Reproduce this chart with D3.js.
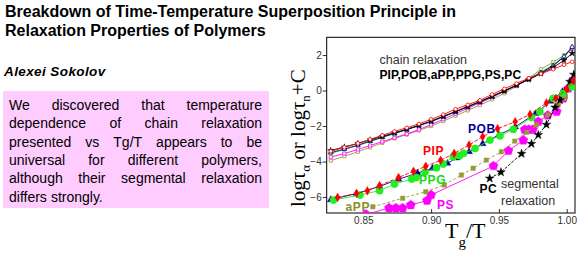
<!DOCTYPE html>
<html><head><meta charset="utf-8">
<script src="https://cdn.jsdelivr.net/npm/d3@7"></script>
<style>
html,body{margin:0;padding:0;background:#fff;}
svg{display:block;font-family:Arial,"Liberation Sans",sans-serif;}
</style></head>
<body>
<script>
// ---- data ----
const titleLines = ["Breakdown of Time-Temperature Superposition Principle in", "Relaxation Properties of Polymers"];
const author = "Alexei Sokolov";
const paragraphLines = ["We discovered that temperature", "dependence of chain relaxation", "presented vs Tg/T appears to be", "universal for different polymers,", "although their segmental relaxation", "differs strongly."];

const xTicks = [0.85, 0.90, 0.95, 1.00];
const yTicks = [-6, -4, -2, 0, 2];

// chain relaxation (open symbols)
const chainX = [0.826,0.836,0.846,0.855,0.864,0.873,0.882,0.891,0.900,0.909,0.918,0.927,0.936,0.945,0.954,0.963,0.972,0.981,0.990,0.998,1.004];
const chainPIP = [-3.42,-3.20,-2.98,-2.75,-2.52,-2.30,-2.10,-1.88,-1.62,-1.35,-1.05,-0.80,-0.55,-0.22,0.10,0.40,0.70,0.95,1.20,1.45,1.62];
const chainPOB = [-3.50,-3.30,-3.08,-2.85,-2.62,-2.42,-2.20,-1.98,-1.75,-1.48,-1.20,-0.92,-0.65,-0.35,-0.02,0.30,0.65,1.00,1.40,1.90,2.45];
const chainAPP = [-3.95,-3.70,-3.45,-3.20,-2.95,-2.70,-2.48,-2.25,-2.00,-1.72,-1.42,-1.12,-0.82,-0.50,-0.15,0.25,0.70,1.20,1.60,2.00,2.35];
const chainPPG = [-3.55,-3.32,-3.10,-2.88,-2.65,-2.43,-2.20,-1.98,-1.74,-1.46,-1.18,-0.90,-0.62,-0.32,0.00,0.33,0.68,1.05,1.45,1.95,2.45];
const chainPS  = [-3.75,-3.55,-3.32,-3.10,-2.88,-2.66,-2.45,-2.20,-1.92,-1.62,-1.30,-1.00,-0.70,-0.38,-0.05,0.28,0.62,1.00,1.40,1.90,2.40];
const chainPC  = [-3.38,-3.18,-2.98,-2.78,-2.58,-2.38,-2.18,-1.96,-1.72,-1.45,-1.18,-0.90,-0.62,-0.32,-0.02,0.30,0.62,0.95,1.30,1.70,2.10];

// segmental relaxation (filled symbols)
const segPIPx = [0.831,0.845,0.853,0.862,0.876,0.887,0.896,0.907,0.917,0.928,0.938,0.949,0.962,0.973,0.985,0.992,1.000,1.005];
const segPIPy = [-6.02,-5.80,-5.65,-5.35,-4.90,-4.55,-4.27,-3.93,-3.54,-3.07,-2.60,-2.15,-1.76,-1.34,-0.70,-0.44,0.08,0.55];
const segPOBx = [0.826,0.845,0.862,0.876,0.890,0.901,0.912,0.919,0.928,0.938,0.950,0.962,0.977,0.988,0.997,1.005];
const segPOBy = [-6.15,-5.80,-5.40,-5.00,-4.65,-4.38,-4.10,-3.80,-3.45,-3.00,-2.50,-2.05,-1.30,-0.60,-0.05,0.50];
const segPPGx = [0.828,0.8475,0.862,0.873,0.8857,0.889,0.8955,0.904,0.909,0.9164,0.921,0.924,0.9324,0.9434,0.9508,0.9606,0.974,0.9802,0.990,0.9974,1.0037];
const segPPGy = [-6.17,-5.89,-5.64,-5.27,-4.99,-4.90,-4.59,-4.35,-4.14,-3.73,-3.67,-3.54,-3.26,-2.79,-2.55,-2.19,-1.51,-1.19,-0.44,-0.16,0.21];
const segAPPx = [0.857,0.879,0.896,0.9097,0.9223,0.931,0.9407,0.9518,0.9617,0.9705,0.9776,0.9862,0.9936,0.9985,1.005];
const segAPPy = [-6.55,-6.07,-5.70,-5.32,-4.76,-4.38,-3.92,-3.45,-2.85,-2.35,-1.94,-1.38,-0.82,-0.44,0.30];
const segPSx = [0.852,0.869,0.874,0.879,0.885,0.897,0.900,0.946,0.957,0.968,0.969,0.972,0.975,0.979,0.986,0.9926,0.9975,1.0012,1.0045];
const segPSy = [-6.98,-6.62,-6.62,-6.62,-6.45,-6.20,-5.88,-4.25,-3.39,-2.80,-2.20,-2.20,-2.20,-1.75,-1.40,-1.19,-0.44,0.12,0.55];
const segPCx = [0.9432,0.9515,0.9667,0.974,0.979,0.985,0.9914,0.995,0.9985,1.0024,1.0052];
const segPCy = [-4.95,-4.60,-3.56,-3.00,-2.50,-1.92,-0.95,-0.54,-0.07,0.50,0.90];

// ---- layout ----
const W = 580, H = 257;
const svg = d3.select("body").append("svg").attr("width", W).attr("height", H);

const plot = {left: 326.7, right: 575, top: 37.3, bottom: 213};
const x = d3.scaleLinear().domain([0.823, 1.0061]).range([plot.left, plot.right]);
const y = d3.scaleLinear().domain([-6.9, 3.0]).range([plot.bottom, plot.top]);

// Title
svg.append("g").selectAll("text").data(titleLines).join("text")
  .attr("x", 5).attr("y", (d,i) => 16.5 + i*19.5)
  .attr("font-size", 16).attr("font-weight", "bold").attr("fill", "#000")
  .text(d => d);

// Author
svg.append("text").attr("x", 4).attr("y", 76)
  .attr("font-size", 13.5).attr("font-weight", "bold").attr("font-style", "italic")
  .attr("letter-spacing", 0.4)
  .text(author);

// Pink box
svg.append("rect").attr("x", 3).attr("y", 91).attr("width", 266).attr("height", 117).attr("fill", "#ffccff");
const para = svg.append("g").attr("font-size", 14).attr("fill", "#000");
const pLeft = 9, pRight = 262;
paragraphLines.forEach((line, i) => {
  const yy = 110 + i*18.3;
  const words = line.split(" ");
  const nodes = words.map(w => para.append("text").attr("y", yy).text(w));
  const widths = nodes.map(n => n.node().getComputedTextLength());
  const total = d3.sum(widths);
  const last = i === paragraphLines.length - 1;
  const gap = (last || words.length < 2) ? 4 : (pRight - pLeft - total) / (words.length - 1);
  let cx = pLeft;
  nodes.forEach((n, k) => { n.attr("x", cx); cx += widths[k] + gap; });
});

// clip
svg.append("clipPath").attr("id", "clip").append("rect")
  .attr("x", plot.left).attr("y", plot.top).attr("width", plot.right - plot.left).attr("height", plot.bottom - plot.top);

// axes
const yAxis = svg.append("g").attr("transform", `translate(${plot.left},0)`)
  .call(d3.axisLeft(y).tickValues(yTicks).tickSize(4).tickPadding(1).tickFormat(d3.format("d")));
yAxis.select(".domain").remove();
yAxis.selectAll("text").attr("font-size", 10).attr("fill", "#333").attr("font-family", "Arial,sans-serif");
yAxis.selectAll("line").attr("stroke", "#333");

const xAxis = svg.append("g").attr("transform", `translate(0,${plot.bottom})`)
  .call(d3.axisBottom(x).tickValues(xTicks).tickSize(-4).tickPadding(4).tickFormat(d3.format(".2f")));
xAxis.select(".domain").remove();
xAxis.selectAll("text").attr("font-size", 10).attr("fill", "#333").attr("font-family", "Arial,sans-serif");
xAxis.selectAll("line").attr("stroke", "#333");

// frame
svg.append("rect").attr("x", plot.left).attr("y", plot.top)
  .attr("width", plot.right - plot.left).attr("height", plot.bottom - plot.top)
  .attr("fill", "none").attr("stroke", "#000").attr("stroke-width", 1);

// pentagon symbol
const symbolPentagon = {
  draw(ctx, size) {
    const r = Math.sqrt(size / 2.378);
    for (let k = 0; k < 5; k++) {
      const a = -Math.PI/2 + k * 2*Math.PI/5;
      const px = r*Math.cos(a), py = r*Math.sin(a);
      if (k === 0) ctx.moveTo(px, py); else ctx.lineTo(px, py);
    }
    ctx.closePath();
  }
};

const g = svg.append("g").attr("clip-path", "url(#clip)");
const line = d3.line().x(d => x(d[0])).y(d => y(d[1]));

function drawSeries(xs, ys, color, symType, symSize, filled, dash, lw) {
  const pts = xs.map((v, i) => [v, ys[i]]);
  g.append("path").datum(pts).attr("d", line).attr("fill", "none")
    .attr("stroke", color).attr("stroke-width", lw || 0.9).attr("stroke-dasharray", dash || null);
  g.append("g").selectAll("path").data(pts).join("path")
    .attr("transform", d => `translate(${x(d[0])},${y(d[1])})`)
    .attr("d", d3.symbol().type(symType).size(symSize))
    .attr("fill", filled ? color : "#fff")
    .attr("stroke", color).attr("stroke-width", filled ? 0.4 : 0.8);
}

const cRed = "#ff0000", cBlue = "#000099", cOlive = "#999933", cGreen = "#22ee22", cMag = "#ff00ff", cBlk = "#000000";

// chain
drawSeries(chainX, chainAPP, cOlive, d3.symbolSquare, 10, false);
drawSeries(chainX, chainPS, cMag, d3.symbolSquare, 10, false);
drawSeries(chainX, chainPPG, cGreen, d3.symbolCircle, 10, false);
drawSeries(chainX, chainPOB, cBlue, d3.symbolTriangle, 10, false);
drawSeries(chainX, chainPC, cBlk, d3.symbolStar, 12, true);
drawSeries(chainX, chainPIP, cRed, d3.symbolCircle, 10, false);

// segmental
drawSeries(segPSx, segPSy, cMag, symbolPentagon, 55, true);
drawSeries(segAPPx, segAPPy, cOlive, d3.symbolSquare, 20, true, "3,2");
drawSeries(segPCx, segPCy, cBlk, d3.symbolStar, 24, true, "3,1.5");
drawSeries(segPOBx, segPOBy, cBlue, d3.symbolTriangle, 20, true);
drawSeries(segPPGx, segPPGy, cGreen, d3.symbolCircle, 42, true);
drawSeries(segPIPx, segPIPy, cRed, d3.symbolDiamond, 22, true, "4,1.5");

// annotations
const ann = svg.append("g").attr("font-family", "Arial,sans-serif");
ann.append("text").attr("x", 379.5).attr("y", 64).attr("font-size", 12.5).attr("fill", "#333").text("chain relaxation");
ann.append("text").attr("x", 379.5).attr("y", 79).attr("font-size", 12).attr("font-weight", "bold").attr("fill", "#000")
  .attr("letter-spacing", 0.1).text("PIP,POB,aPP,PPG,PS,PC");
const lab = (t, xx, yy, c) => ann.append("text").attr("x", xx).attr("y", yy).attr("font-size", 12)
  .attr("font-weight", "bold").attr("letter-spacing", 0.6).attr("fill", c).text(t);
lab("POB", 468, 132.5, cBlue);
lab("PIP", 423, 154.5, cRed);
lab("PPG", 419, 183.5, "#11dd11");
lab("aPP", 345.5, 211, "#8c8c2a");
lab("PS", 437, 209, cMag);
lab("PC", 479.5, 193, cBlk);
ann.append("text").attr("x", 501).attr("y", 188).attr("font-size", 12.5).attr("fill", "#333").text("segmental");
ann.append("text").attr("x", 501).attr("y", 205).attr("font-size", 12.5).attr("fill", "#333").text("relaxation");

// x label T_g/T
const xl = svg.append("text").attr("x", 445).attr("y", 237.5)
  .attr("font-family", "'Liberation Serif','Times New Roman',serif").attr("font-size", 22).attr("fill", "#000");
xl.append("tspan").text("T");
xl.append("tspan").attr("font-size", 15).attr("dy", 9).text("g");
xl.append("tspan").attr("dy", -9).text("/T");

// y label
const yl = svg.append("text")
  .attr("transform", "translate(305,207) rotate(-90)")
  .attr("font-family", "'Liberation Serif','Times New Roman',serif").attr("font-size", 21).attr("fill", "#000");
yl.append("tspan").text("log\u03c4");
yl.append("tspan").attr("font-size", 13).attr("dy", 5).text("\u03b1");
yl.append("tspan").attr("dy", -5).text(" or log\u03c4");
yl.append("tspan").attr("font-size", 13).attr("dy", 5).text("n");
yl.append("tspan").attr("dy", -5).text("+C");
</script>
</body></html>
